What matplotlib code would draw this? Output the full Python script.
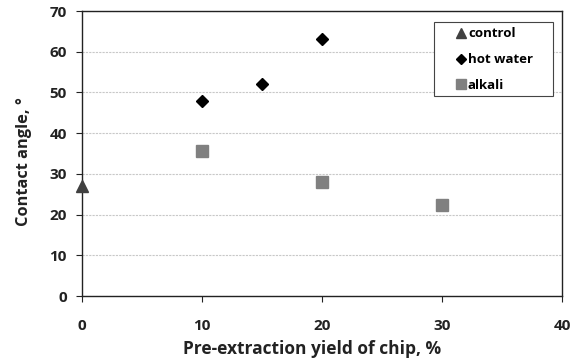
import matplotlib
matplotlib.use("Agg")
import matplotlib.pyplot as plt
from matplotlib.patches import Rectangle

plt.rcParams['font.family'] = ['Open Sans', 'DejaVu Sans']
plt.rcParams['font.weight'] = 'bold'

# data
control_x = [0]
control_y = [27]
hot_x = [10, 15, 20]
hot_y = [48, 52, 63.2]
alkali_x = [10, 20, 30]
alkali_y = [35.5, 28, 22.3]

fig = plt.figure(figsize=(5.72, 3.62), dpi=100)
ax = fig.add_axes([0.1434, 0.1823, 0.8391, 0.7873])

ax.plot(control_x, control_y, linestyle='none', marker='^', markersize=8.6,
        color='#404040', label='control', clip_on=False, zorder=3)
ax.plot(hot_x, hot_y, linestyle='none', marker='D', markersize=6,
        color='black', label='hot water', zorder=3)
ax.plot(alkali_x, alkali_y, linestyle='none', marker='s', markersize=8.6,
        color='#808080', label='alkali', zorder=3)

ax.set_xlim(0, 40)
ax.set_ylim(0, 70)
ax.set_xticks([0, 10, 20, 30, 40])
ax.set_yticks(range(0, 71, 10))
ax.yaxis.grid(True, linestyle=(0, (2, 1)), color='#c8c8c8', linewidth=0.8)
ax.set_axisbelow(True)

for s in ax.spines.values():
    s.set_color('#222222')
    s.set_linewidth(1.0)

ax.tick_params(axis='x', direction='out', length=4, pad=12.5, labelsize=11, colors='#222222')
ax.tick_params(axis='y', direction='out', length=4, pad=7, labelsize=11, colors='#222222')
ax.set_xlabel('Pre-extraction yield of chip, %', fontsize=12.5, fontweight='bold', color='#222222')
ax.set_ylabel('Contact angle, °', fontsize=11.8, fontweight='bold', color='#222222')
ax.xaxis.set_label_coords(0.48, -0.155)
ax.yaxis.set_label_coords(-0.105, 0.47)

# legend frame drawn separately (excel style box with wide left margin)
ax.add_patch(Rectangle((0.7333, 0.7018), 0.2479, 0.2596, transform=ax.transAxes,
                       facecolor='white', edgecolor='#444444', linewidth=0.8, zorder=4))
leg = ax.legend(loc='upper left', bbox_to_anchor=(0.7785, 0.943), borderaxespad=0,
                frameon=False, handlelength=0.8, handletextpad=0.13,
                labelspacing=0.98, borderpad=0,
                prop={'weight': 'bold', 'size': 9.5})
leg.set_zorder(5)
for line, ms in zip(leg.get_lines(), [7.2, 5.0, 7.0]):
    line.set_markersize(ms)

fig.savefig('out.png', dpi=100)
